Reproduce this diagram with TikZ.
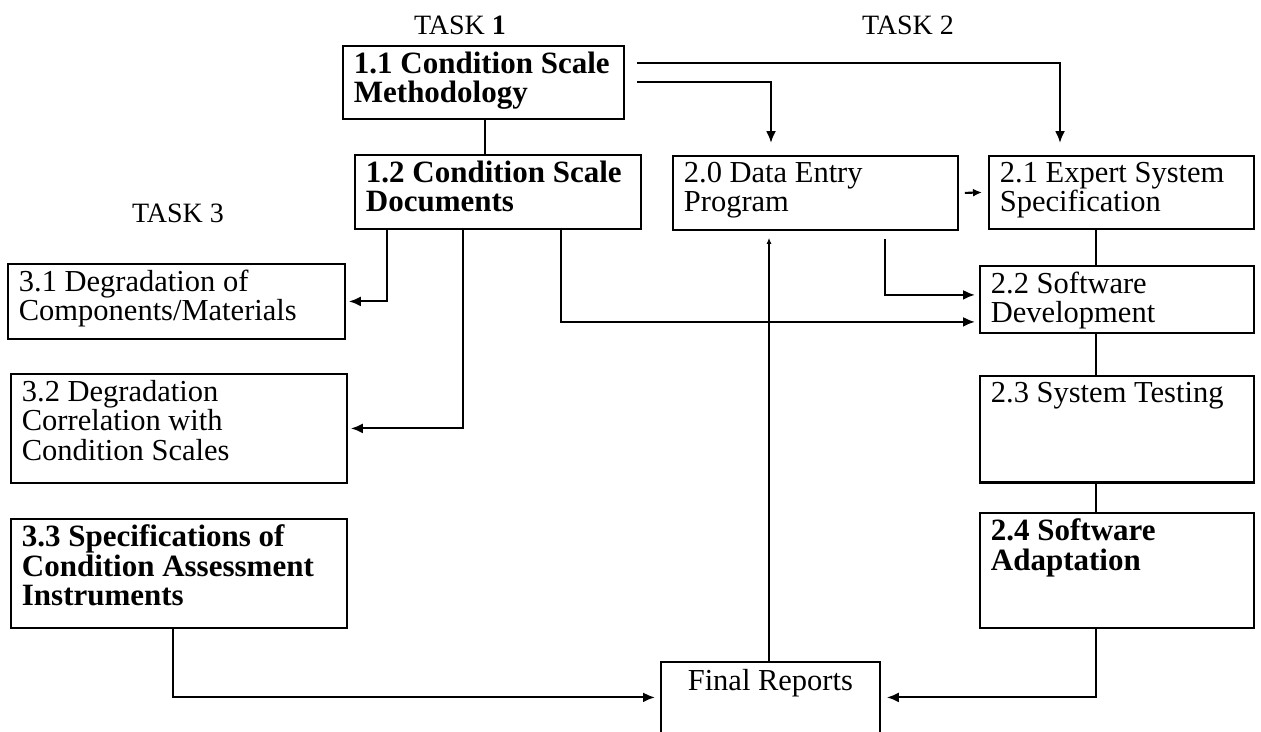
\documentclass[tikz,border=0pt]{standalone}
\usepackage{fontspec}
\setmainfont{Liberation Serif}
\usetikzlibrary{calc,arrows.meta}

\tikzset{
  tbox/.style={draw, line width=1.8pt, anchor=north west, inner xsep=11pt, inner ysep=6pt,
    font=\fontsize{30.5}{29.5}\selectfont},
  tboxbf/.style={tbox, font=\fontsize{31}{29.5}\selectfont\bfseries},
  openbox/.style={tbox, draw=none},
  tasklbl/.style={font=\fontsize{28}{28}\selectfont},
  conn/.style={line width=2.1pt},
  arr/.style={conn, -{Latex[length=12pt,width=10pt]}},
  arrsmall/.style={conn, -{Latex[length=9pt,width=8pt]}},
}

% box with its text set top left: [style]{name}{x}{y}{width}{height}{text}
\newcommand{\TaskBox}[7][tbox]{%
  \node[#1] (#2) at (#3,#4)
    {\parbox[t][\dimexpr#6pt-12pt\relax][t]{\dimexpr#5pt-22pt\relax}{\raggedright #7}};}

\begin{document}
\begin{tikzpicture}[x=1pt,y=-1pt]
  \useasboundingbox (0,0) rectangle (1261,731);

  \node[tasklbl] (task1) at (460,25) {TASK \textbf{1}};
  \node[tasklbl] (task2) at (908,25) {TASK 2};
  \node[tasklbl] (task3) at (178,213) {TASK 3};

  \TaskBox[tboxbf]{m11}{342}{45}{281}{73}{1.1 Condition Scale\\Methodology}
  \TaskBox[tboxbf]{m12}{354}{154}{286}{74}{1.2 Condition Scale\\Documents}
  \TaskBox{d20}{672}{155}{285}{74}{2.0 Data Entry\\Program}
  \TaskBox{s21}{988}{155}{265}{73}{2.1 Expert System\\Specification}

  \TaskBox{t31}{7}{263}{337}{75}{3.1 Degradation of\\Components/Materials}
  \TaskBox{t32}{10}{373}{336}{109}{3.2 Degradation\\Correlation with\\Condition Scales}
  \TaskBox[tboxbf]{t33}{10}{518}{336}{109}{3.3 Specifications of\\Condition Assessment\\Instruments}

  \TaskBox{s22}{979}{265}{274}{67}{2.2 Software\\Development}
  \TaskBox{s23}{979}{375}{274}{106}{2.3 System Testing}
  \TaskBox[tboxbf]{s24}{979}{512}{274}{115}{2.4 Software\\Adaptation}

  \TaskBox[openbox]{fin}{661}{662}{217}{69}{\centering Final Reports}
  \draw[line width=1.8pt] (fin.south west) -- (fin.north west) -- (fin.north east) -- (fin.south east);
  \draw[line width=3pt] (s23.south west) -- (s23.south east);

  % connector columns
  \coordinate (c173) at (173,0);
  \coordinate (c387) at (387,0);
  \coordinate (c463) at (463,0);
  \coordinate (c485) at (485,0);
  \coordinate (c561) at (561,0);
  \coordinate (c769) at (769,0);
  \coordinate (c771) at (771,0);
  \coordinate (c885) at (885,0);
  \coordinate (c1060) at (1060,0);
  \coordinate (c1096) at (1096,0);

  \draw[conn] (m11.south -| c485) -- (m12.north -| c485);
  \draw[arr] ($(m11.east)+(12,-19)$) -| ($(s21.north -| c1060)+(0,-12)$);
  \draw[arr] ($(m11.east)+(12,0)$) -| ($(d20.north -| c771)+(0,-12)$);
  \draw[arrsmall] ($(d20.east)+(6,0)$) -- ($(s21.west)+(-6,0)$);

  \draw[arr] (m12.south -| c387) |- ($(t31.east)+(3,0)$);
  \draw[arr] (m12.south -| c463) |- ($(t32.east)+(3,0)$);
  \draw[arr] (m12.south -| c561) |- ($(s22.west)+(-4,22.5)$);
  \draw[arr] ($(d20.south -| c885)+(0,8)$) |- ($(s22.west)+(-4,-4.5)$);

  \draw[conn] (s21.south -| c1096) -- (s22.north -| c1096);
  \draw[conn] (s22.south -| c1096) -- (s23.north -| c1096);
  \draw[conn] (s23.south -| c1096) -- (s24.north -| c1096);

  \draw[arr] (t33.south -| c173) |- ($(fin.west)+(-6,0)$);
  \draw[arr] (s24.south -| c1096) |- ($(fin.east)+(7,0)$);
  \draw[conn, -{Latex[length=6pt,width=5pt]}] (fin.north east) -- (fin.north -| c769)
    -- ($(d20.south -| c769)+(0,7)$);
\end{tikzpicture}
\end{document}
